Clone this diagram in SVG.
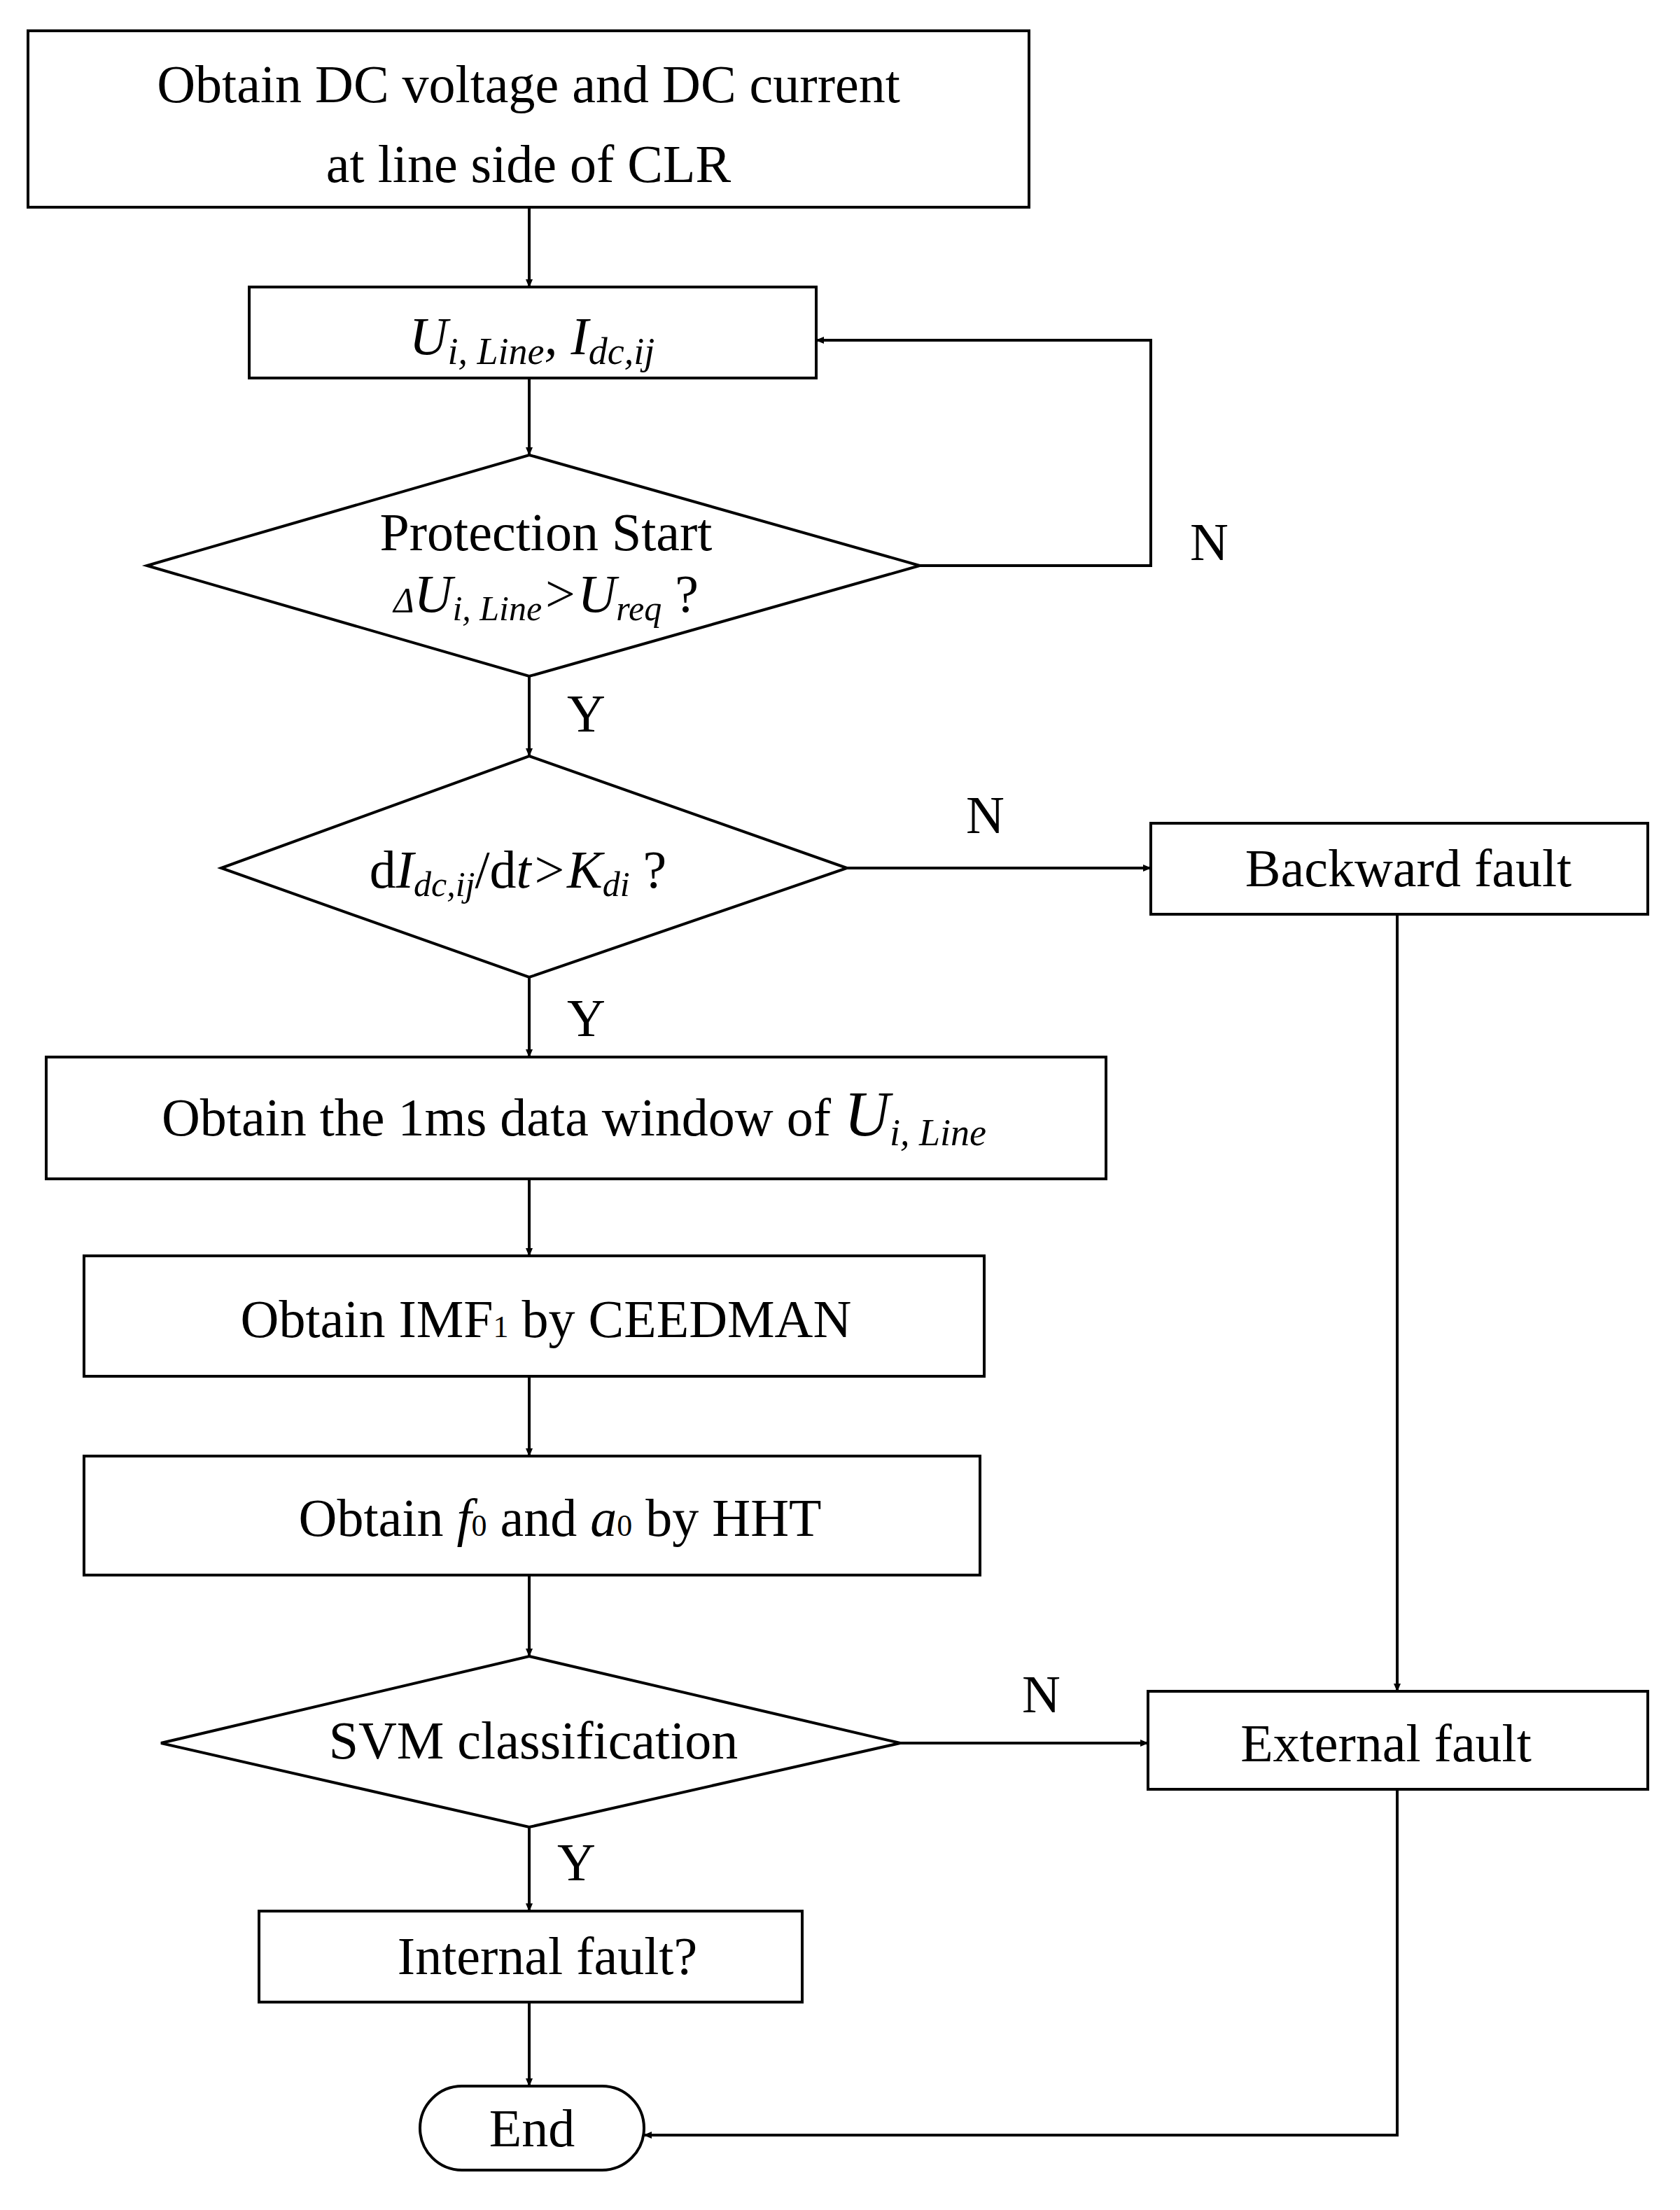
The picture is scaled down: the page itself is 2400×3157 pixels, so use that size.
<svg xmlns="http://www.w3.org/2000/svg" width="2400" height="3157" viewBox="0 0 2400 3157">
<defs>
<marker id="ah" markerWidth="12" markerHeight="10" refX="11" refY="5" orient="auto" markerUnits="userSpaceOnUse" viewBox="0 0 12 10"><path d="M0,0 L12,5 L0,10 Z" fill="#000"/></marker>
<style>
.s{fill:#fff;stroke:#000;stroke-width:4}
.c{fill:none;stroke:#000;stroke-width:4;marker-end:url(#ah)}
.l{fill:none;stroke:#000;stroke-width:4}
text{font-family:"Liberation Serif","Times New Roman",serif;font-size:76px;fill:#000}
.m{text-anchor:middle}
.i{font-style:italic}
</style>
</defs>
<rect width="2400" height="3157" fill="#fff"/>
<g id="connectors">
<path class="c" d="M756,296 V410"/>
<path class="c" d="M756,540 V650"/>
<path class="c" d="M1314,808 H1644 V486 H1166"/>
<path class="c" d="M756,966 V1080"/>
<path class="c" d="M1210,1240 H1644"/>
<path class="c" d="M1996,1306 V2416"/>
<path class="c" d="M756,1396 V1510"/>
<path class="c" d="M756,1684 V1794"/>
<path class="c" d="M756,1966 V2080"/>
<path class="c" d="M756,2250 V2366"/>
<path class="c" d="M1286,2490 H1640"/>
<path class="c" d="M756,2610 V2730"/>
<path class="c" d="M756,2860 V2980"/>
<path class="c" d="M1996,2556 V3050 H920"/>
<text x="1700" y="800">N</text>
<text x="810" y="1045">Y</text>
<text x="1380" y="1190">N</text>
<text x="810" y="1480">Y</text>
<text x="1460" y="2446">N</text>
<text x="796" y="2686">Y</text>
</g>
<g id="n1"><rect class="s" x="40" y="44" width="1430" height="252"/>
<text class="m" x="755" y="146">Obtain DC voltage and DC current</text>
<text class="m" x="755" y="260">at line side of CLR</text></g>
<g id="n2"><rect class="s" x="356" y="410" width="810" height="130"/>
<text class="m i" x="760" y="506" font-size="90">U<tspan font-size="54" dy="14">i, Line</tspan><tspan dy="-14">,  I</tspan><tspan font-size="54" dy="14">dc,ij</tspan></text></g>
<g id="n3"><polygon class="s" points="756,650 1314,808 756,966 210,808"/>
<text class="m" x="780" y="786">Protection Start</text>
<text class="m i" x="780" y="874"><tspan font-size="50">Δ</tspan>U<tspan font-size="50" dy="12">i, Line</tspan><tspan dy="-12">&gt;U</tspan><tspan font-size="50" dy="12">req</tspan><tspan dy="-12" font-style="normal"> ?</tspan></text></g>
<g id="n4"><polygon class="s" points="756,1080 1210,1240 756,1396 316,1240"/>
<text class="m" x="740" y="1268"><tspan>d</tspan><tspan class="i">I</tspan><tspan class="i" font-size="50" dy="12">dc,ij</tspan><tspan dy="-12">/d</tspan><tspan class="i">t</tspan><tspan class="i">&gt;K</tspan><tspan class="i" font-size="50" dy="12">di</tspan><tspan dy="-12"> ?</tspan></text></g>
<g id="n5"><rect class="s" x="1644" y="1176" width="710" height="130"/>
<text class="m" x="2012" y="1266">Backward fault</text></g>
<g id="n6"><rect class="s" x="66" y="1510" width="1514" height="174"/>
<text class="m" x="820" y="1622">Obtain the 1ms data window of <tspan class="i" font-size="90">U</tspan><tspan class="i" font-size="54" dy="14">i, Line</tspan></text></g>
<g id="n7"><rect class="s" x="120" y="1794" width="1286" height="172"/>
<text class="m" x="780" y="1910">Obtain IMF<tspan font-size="44">1</tspan> by CEEDMAN</text></g>
<g id="n8"><rect class="s" x="120" y="2080" width="1280" height="170"/>
<text class="m" x="800" y="2194">Obtain <tspan class="i">f</tspan><tspan font-size="44">0</tspan> and <tspan class="i">a</tspan><tspan font-size="44">0</tspan> by HHT</text></g>
<g id="n9"><polygon class="s" points="756,2366 1286,2490 756,2610 230,2490"/>
<text class="m" x="762" y="2512">SVM classification</text></g>
<g id="n10"><rect class="s" x="1640" y="2416" width="714" height="140"/>
<text class="m" x="1980" y="2516">External fault</text></g>
<g id="n11"><rect class="s" x="370" y="2730" width="776" height="130"/>
<text class="m" x="782" y="2820">Internal fault?</text></g>
<g id="n12"><rect class="s" x="600" y="2980" width="320" height="120" rx="60"/>
<text class="m" x="760" y="3066">End</text></g>
</svg>
